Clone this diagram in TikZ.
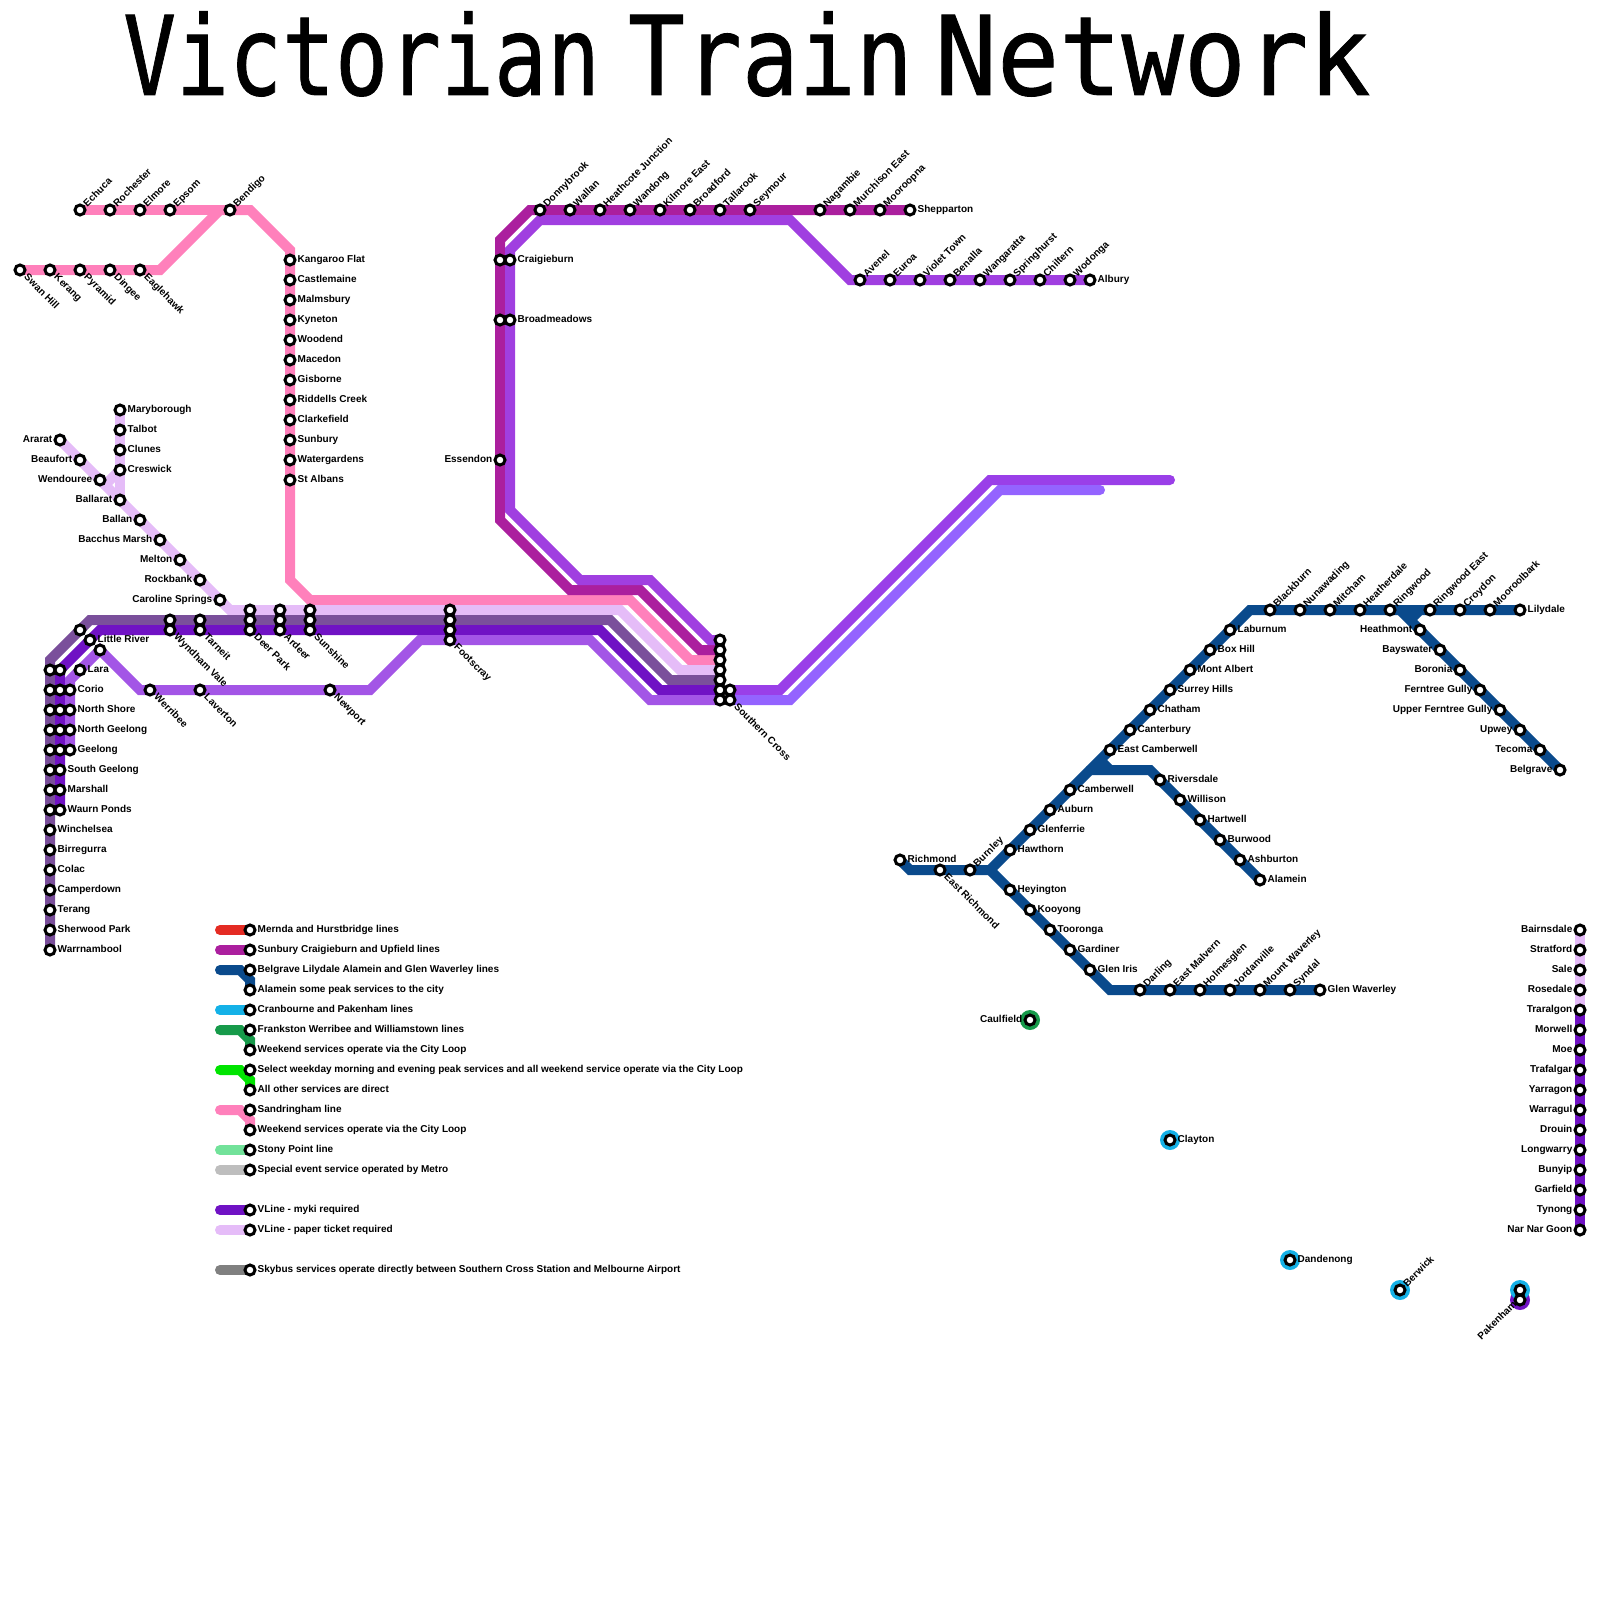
\documentclass[tikz,border=0pt]{standalone}
\usepackage{fontspec}
\setmainfont{Liberation Sans}
\newfontfamily\titlefont[FakeBold=0.8]{DejaVu Sans Mono}
\definecolor{cPink}{HTML}{FF80BB}
\definecolor{cLav}{HTML}{E5BCF8}
\definecolor{cGrey}{HTML}{7A4F9B}
\definecolor{cMyki}{HTML}{7012C4}
\definecolor{cLight}{HTML}{A355E6}
\definecolor{cMag}{HTML}{AB1F9E}
\definecolor{cTop}{HTML}{A03FE0}
\definecolor{cUp}{HTML}{9A3FE8}
\definecolor{cLow}{HTML}{9463FF}
\definecolor{cBlue}{HTML}{0A4A8C}
\definecolor{cRed}{HTML}{E42B23}
\definecolor{cCyan}{HTML}{14B1E7}
\definecolor{cGreen}{HTML}{169A4A}
\definecolor{cLime}{HTML}{00E400}
\definecolor{cMint}{HTML}{72E29A}
\definecolor{cSilver}{HTML}{BEBEBE}
\definecolor{cSky}{HTML}{808080}
\pgfdeclarelayer{lines}
\pgfsetlayers{lines,main}
\tikzset{
  stn/.style={circle,draw=black,fill=white,line width=3pt,minimum size=10pt,inner sep=0pt},
  ring/.style={circle,minimum size=20pt,inner sep=0pt},
  rail/.style={line width=10pt,line cap=round,line join=miter},
  lab/.style={inner sep=0pt,font=\fontsize{10pt}{12pt}\selectfont\bfseries},
}
\newcommand\stN[3]{\node[stn] (#1) at (#2,#3) {};}
\newcommand\stR[4]{\node[stn] (#1) at (#2,#3) {};\node[lab,anchor=base west,xshift=7.5pt,yshift=-2.4pt] (#1-t) at (#2,#3) {#4};}
\newcommand\stL[4]{\node[stn] (#1) at (#2,#3) {};\node[lab,anchor=base east,xshift=-7.5pt,yshift=-2.4pt] (#1-t) at (#2,#3) {#4};}
\newcommand\stU[4]{\node[stn] (#1) at (#2,#3) {};\node[lab,anchor=base west,rotate=45,xshift=7pt,yshift=-3.2pt] (#1-t) at (#2,#3) {#4};}
\newcommand\stD[4]{\node[stn] (#1) at (#2,#3) {};\node[lab,anchor=base west,rotate=-45,xshift=8pt,yshift=-3pt] (#1-t) at (#2,#3) {#4};}
\newcommand\stB[4]{\node[stn] (#1) at (#2,#3) {};\node[lab,anchor=base east,rotate=45,xshift=-5.5pt,yshift=-1.5pt] (#1-t) at (#2,#3) {#4};}
\begin{document}
\begin{tikzpicture}[x=1pt,y=-1pt]
\useasboundingbox (0,0) rectangle (1600,1600);
\node[anchor=base west,inner sep=0pt,font=\titlefont\fontsize{110pt}{120pt}\selectfont] (title) at (123,95)
 {\scalebox{.80}[1]{Victorian}\hspace{28pt}\scalebox{.86}[1]{Train}\hspace{22pt}\scalebox{.94}[1]{Network}};
% Bendigo group
\stU{echuca}{80}{210}{Echuca}\stU{rochester}{110}{210}{Rochester}\stU{elmore}{140}{210}{Elmore}\stU{epsom}{170}{210}{Epsom}\stU{bendigo}{230}{210}{Bendigo}
\stD{swan}{20}{270}{Swan Hill}\stD{kerang}{50}{270}{Kerang}\stD{pyramid}{80}{270}{Pyramid}\stD{dingee}{110}{270}{Dingee}\stD{eagle}{140}{270}{Eaglehawk}
\stR{kang}{290}{260}{Kangaroo Flat}\stR{castle}{290}{280}{Castlemaine}\stR{malms}{290}{300}{Malmsbury}\stR{kyne}{290}{320}{Kyneton}\stR{woodend}{290}{340}{Woodend}\stR{macedon}{290}{360}{Macedon}\stR{gisb}{290}{380}{Gisborne}\stR{ridd}{290}{400}{Riddells Creek}\stR{clarke}{290}{420}{Clarkefield}\stR{sunb}{290}{440}{Sunbury}\stR{water}{290}{460}{Watergardens}\stR{stalb}{290}{480}{St Albans}
% Ballarat group
\stR{mary}{120}{410}{Maryborough}\stR{talbot}{120}{430}{Talbot}\stR{clunes}{120}{450}{Clunes}\stR{cres}{120}{470}{Creswick}
\stL{ararat}{60}{440}{Ararat}\stL{beau}{80}{460}{Beaufort}\stL{wend}{100}{480}{Wendouree}\stL{ballarat}{120}{500}{Ballarat}\stL{ballan}{140}{520}{Ballan}\stL{bacchus}{160}{540}{Bacchus Marsh}\stL{melton}{180}{560}{Melton}\stL{rock}{200}{580}{Rockbank}\stL{carol}{220}{600}{Caroline Springs}
% trunk stacks
\stN{wv1}{170}{620}\stD{wv2}{170}{630}{Wyndham Vale}\stN{tar1}{200}{620}\stD{tar2}{200}{630}{Tarneit}
\stN{dp1}{250}{610}\stN{dp2}{250}{620}\stD{dp3}{250}{630}{Deer Park}
\stN{ar1}{280}{610}\stN{ar2}{280}{620}\stD{ar3}{280}{630}{Ardeer}
\stN{su1}{310}{610}\stN{su2}{310}{620}\stD{su3}{310}{630}{Sunshine}
\stN{fo1}{450}{610}\stN{fo2}{450}{620}\stN{fo3}{450}{630}\stD{fo4}{450}{640}{Footscray}
\stN{sc1}{720}{640}\stN{sc2}{720}{650}\stN{sc3}{720}{660}\stN{sc4}{720}{670}\stN{sc5}{720}{680}\stN{sc6}{720}{690}\stN{sc7}{720}{700}\stN{sc8}{730}{690}\stD{sc9}{730}{700}{Southern Cross}
\stN{u1}{80}{630}\stR{little}{90}{640}{Little River}\stN{u2}{100}{650}\stR{lara}{80}{670}{Lara}
\stD{werr}{150}{690}{Werribee}\stD{lav}{200}{690}{Laverton}\stD{newp}{330}{690}{Newport}
% west columns
\stN{a1}{50}{670}\stN{a2}{50}{690}\stN{a3}{50}{710}\stN{a4}{50}{730}\stN{a5}{50}{750}\stN{a6}{50}{770}\stN{a7}{50}{790}\stN{a8}{50}{810}
\stR{winch}{50}{830}{Winchelsea}\stR{birr}{50}{850}{Birregurra}\stR{colac}{50}{870}{Colac}\stR{camp}{50}{890}{Camperdown}\stR{terang}{50}{910}{Terang}\stR{sherw}{50}{930}{Sherwood Park}\stR{warr}{50}{950}{Warrnambool}
\stN{b1}{60}{670}\stN{b2}{60}{690}\stN{b3}{60}{710}\stN{b4}{60}{730}\stN{b5}{60}{750}\stR{sgee}{60}{770}{South Geelong}\stR{marsh}{60}{790}{Marshall}\stR{waurn}{60}{810}{Waurn Ponds}
\stR{corio}{70}{690}{Corio}\stR{nshore}{70}{710}{North Shore}\stR{ngee}{70}{730}{North Geelong}\stR{gee}{70}{750}{Geelong}
% north
\stR{c1}{510}{260}{Craigieburn}\stN{c2}{500}{260}\stR{br1}{510}{320}{Broadmeadows}\stN{br2}{500}{320}\stL{ess}{500}{460}{Essendon}
\stU{donny}{540}{210}{Donnybrook}\stU{wallan}{570}{210}{Wallan}\stU{heath}{600}{210}{Heathcote Junction}\stU{wand}{630}{210}{Wandong}\stU{kilm}{660}{210}{Kilmore East}\stU{broadf}{690}{210}{Broadford}\stU{tall}{720}{210}{Tallarook}\stU{seym}{750}{210}{Seymour}\stU{naga}{820}{210}{Nagambie}\stU{murch}{850}{210}{Murchison East}\stU{moor}{880}{210}{Mooroopna}\stR{shep}{910}{210}{Shepparton}
\stU{aven}{860}{280}{Avenel}\stU{euroa}{890}{280}{Euroa}\stU{violet}{920}{280}{Violet Town}\stU{bena}{950}{280}{Benalla}\stU{wang}{980}{280}{Wangaratta}\stU{spring}{1010}{280}{Springhurst}\stU{chil}{1040}{280}{Chiltern}\stU{wodo}{1070}{280}{Wodonga}\stR{albury}{1090}{280}{Albury}
% metro east
\stR{rich}{900}{860}{Richmond}\stD{erich}{940}{870}{East Richmond}\stU{burn}{970}{870}{Burnley}
\stR{hawt}{1010}{850}{Hawthorn}\stR{glenf}{1030}{830}{Glenferrie}\stR{aub}{1050}{810}{Auburn}\stR{cambw}{1070}{790}{Camberwell}\stR{ecam}{1110}{750}{East Camberwell}\stR{cant}{1130}{730}{Canterbury}\stR{chat}{1150}{710}{Chatham}\stR{surr}{1170}{690}{Surrey Hills}\stR{mont}{1190}{670}{Mont Albert}\stR{box}{1210}{650}{Box Hill}\stR{labu}{1230}{630}{Laburnum}
\stU{black}{1270}{610}{Blackburn}\stU{nuna}{1300}{610}{Nunawading}\stU{mitch}{1330}{610}{Mitcham}\stU{heat}{1360}{610}{Heatherdale}\stU{ringw}{1390}{610}{Ringwood}\stU{ringe}{1430}{610}{Ringwood East}\stU{croy}{1460}{610}{Croydon}\stU{moorb}{1490}{610}{Mooroolbark}\stR{lily}{1520}{610}{Lilydale}
\stL{hmont}{1420}{630}{Heathmont}\stL{bays}{1440}{650}{Bayswater}\stL{boro}{1460}{670}{Boronia}\stL{fern}{1480}{690}{Ferntree Gully}\stL{upfern}{1500}{710}{Upper Ferntree Gully}\stL{upwey}{1520}{730}{Upwey}\stL{tecom}{1540}{750}{Tecoma}\stL{belg}{1560}{770}{Belgrave}
\stR{river}{1160}{780}{Riversdale}\stR{will}{1180}{800}{Willison}\stR{hart}{1200}{820}{Hartwell}\stR{burw}{1220}{840}{Burwood}\stR{ashb}{1240}{860}{Ashburton}\stR{alam}{1260}{880}{Alamein}
\stR{heyi}{1010}{890}{Heyington}\stR{kooy}{1030}{910}{Kooyong}\stR{toor}{1050}{930}{Tooronga}\stR{gard}{1070}{950}{Gardiner}\stR{iris}{1090}{970}{Glen Iris}
\stU{darl}{1140}{990}{Darling}\stU{emal}{1170}{990}{East Malvern}\stU{holm}{1200}{990}{Holmesglen}\stU{jord}{1230}{990}{Jordanville}\stU{mtw}{1260}{990}{Mount Waverley}\stU{synd}{1290}{990}{Syndal}\stR{glenw}{1320}{990}{Glen Waverley}
% isolated
\stL{caul}{1030}{1020}{Caulfield}\stR{clay}{1170}{1140}{Clayton}\stR{dand}{1290}{1260}{Dandenong}\stU{berw}{1400}{1290}{Berwick}\stN{pak1}{1520}{1290}\stB{pak2}{1520}{1300}{Pakenham}
% gippsland
\stL{bair}{1580}{930}{Bairnsdale}\stL{strat}{1580}{950}{Stratford}\stL{sale}{1580}{970}{Sale}\stL{rose}{1580}{990}{Rosedale}\stL{tral}{1580}{1010}{Traralgon}\stL{morw}{1580}{1030}{Morwell}\stL{moe}{1580}{1050}{Moe}\stL{traf}{1580}{1070}{Trafalgar}\stL{yarr}{1580}{1090}{Yarragon}\stL{warg}{1580}{1110}{Warragul}\stL{drou}{1580}{1130}{Drouin}\stL{long}{1580}{1150}{Longwarry}\stL{buny}{1580}{1170}{Bunyip}\stL{garf}{1580}{1190}{Garfield}\stL{tyno}{1580}{1210}{Tynong}\stL{narn}{1580}{1230}{Nar Nar Goon}
% legend
\stR{l1}{250}{930}{Mernda and Hurstbridge lines}
\stR{l2}{250}{950}{Sunbury Craigieburn and Upfield lines}
\stR{l3}{250}{970}{Belgrave Lilydale Alamein and Glen Waverley lines}
\stR{l4}{250}{990}{Alamein some peak services to the city}
\stR{l5}{250}{1010}{Cranbourne and Pakenham lines}
\stR{l6}{250}{1030}{Frankston Werribee and Williamstown lines}
\stR{l7}{250}{1050}{Weekend services operate via the City Loop}
\stR{l8}{250}{1070}{Select weekday morning and evening peak services and all weekend service operate via the City Loop}
\stR{l9}{250}{1090}{All other services are direct}
\stR{l10}{250}{1110}{Sandringham line}
\stR{l11}{250}{1130}{Weekend services operate via the City Loop}
\stR{l12}{250}{1150}{Stony Point line}
\stR{l13}{250}{1170}{Special event service operated by Metro}
\stR{l14}{250}{1210}{VLine - myki required}
\stR{l15}{250}{1230}{VLine - paper ticket required}
\stR{l16}{250}{1270}{Skybus services operate directly between Southern Cross Station and Melbourne Airport}
\foreach \i/\yy in {1/930,2/950,3/970,5/1010,6/1030,8/1070,10/1110,12/1150,13/1170,14/1210,15/1230,16/1270}{\coordinate (k\i) at (220,\yy);}
\coordinate (endUp) at (1170,480);
\coordinate (endLow) at (1100,490);
\begin{pgfonlayer}{lines}
% pink
\draw[rail,cPink] (echuca.center) -- (bendigo.center);
\draw[rail,cPink] (swan.center) -- (160,270) -- (220,210) -- (bendigo.center) -- (250,210) -- (290,250) -- (290,580) -- (310,600) -- (630,600) -- (690,660) -- (sc3.center);
% lavender
\draw[rail,cLav] (mary.center) -- (ballarat.center);
\draw[rail,cLav] (cres.center) -- (105,485);
\draw[rail,cLav] (ararat.center) -- (230,610) -- (620,610) -- (680,670) -- (sc4.center);
% grey purple
\draw[rail,cGrey] (warr.center) -- (50,660) -- (90,620) -- (610,620) -- (670,680) -- (sc5.center);
% myki
\draw[rail,cMyki] (waurn.center) -- (60,670) -- (100,630) -- (600,630) -- (660,690) -- (sc6.center);
% light purple
\draw[rail,cLight] (gee.center) -- (70,680) -- (100,650) -- (140,690) -- (370,690) -- (420,640) -- (590,640) -- (650,700) -- (sc7.center);
% magenta
\draw[rail,cMag] (shep.center) -- (530,210) -- (500,240) -- (500,520) -- (570,590) -- (640,590) -- (700,650) -- (sc2.center);
% top purple
\draw[rail,cTop] (albury.center) -- (850,280) -- (790,220) -- (540,220) -- (510,250) -- (510,510) -- (580,580) -- (650,580) -- (710,640) -- (sc1.center);
% east
\draw[rail,cUp] (sc8.center) -- (780,690) -- (990,480) -- (endUp);
\draw[rail,cLow] (sc9.center) -- (790,700) -- (1000,490) -- (endLow);
% blue
\draw[rail,cBlue] (rich.center) -- (910,870) -- (990,870) -- (1250,610) -- (lily.center);
\draw[rail,cBlue] (990,870) -- (1110,990) -- (glenw.center);
\draw[rail,cBlue] (1090,770) -- (1150,770) -- (alam.center);
\draw[line width=10pt,cBlue] (1100,760) -- (1110,770);
\draw[rail,cBlue] (1400,610) -- (belg.center);
\draw[line width=10pt,cBlue] (1420,610) -- (1410,620);
% gippsland
\draw[rail,cLav] (bair.center) -- (tral.center);
\draw[rail,cMyki] (tral.center) -- (narn.center);
% rings
\node[ring,fill=cGreen] (r1) at (caul) {};
\node[ring,fill=cCyan] (r2) at (clay) {};
\node[ring,fill=cCyan] (r3) at (dand) {};
\node[ring,fill=cCyan] (r4) at (berw) {};
\node[ring,fill=cMyki] (r6) at (pak2) {};
\node[ring,fill=cCyan] (r5) at (pak1) {};
% legend
\draw[rail,cRed] (k1) -- (l1.center);
\draw[rail,cMag] (k2) -- (l2.center);
\draw[rail,cBlue] (k3) -- (240,970) -- (250,980) -- (l4.center);
\draw[rail,cCyan] (k5) -- (l5.center);
\draw[rail,cGreen] (k6) -- (240,1030) -- (250,1040) -- (l7.center);
\draw[rail,cLime] (k8) -- (240,1070) -- (250,1080) -- (l9.center);
\draw[rail,cPink] (k10) -- (240,1110) -- (250,1120) -- (l11.center);
\draw[rail,cMint] (k12) -- (l12.center);
\draw[rail,cSilver] (k13) -- (l13.center);
\draw[rail,cMyki] (k14) -- (l14.center);
\draw[rail,cLav] (k15) -- (l15.center);
\draw[rail,cSky] (k16) -- (l16.center);
\end{pgfonlayer}
\end{tikzpicture}
\end{document}
